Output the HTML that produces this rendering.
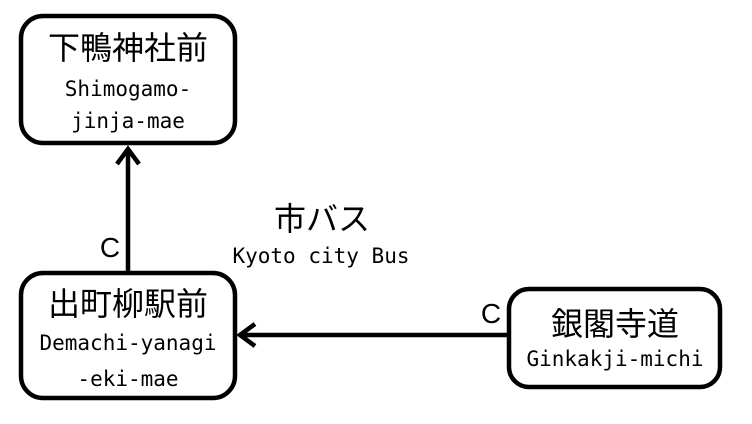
<!DOCTYPE html>
<html><head><meta charset="utf-8"><style>
body{margin:0;background:#fff;width:752px;height:419px;overflow:hidden}
svg text{font-family:"DejaVu Sans Mono","Noto Sans CJK JP",monospace;fill:#000}
.j{font-family:"Liberation Sans","Noto Sans CJK JP",sans-serif !important;font-size:32px}
.m{font-size:21px}
</style></head><body>
<svg width="752" height="419" viewBox="0 0 752 419" xmlns="http://www.w3.org/2000/svg">
<g fill="none" stroke="#000" stroke-width="4.5">
<rect x="21" y="16" width="214" height="127" rx="22"/>
<rect x="21" y="273" width="214" height="125" rx="22"/>
<rect x="509" y="289" width="211" height="98" rx="20"/>
<line x1="128" y1="271" x2="128" y2="148"/>
<polyline points="117,164 128,149 139,164"/>
<line x1="507" y1="335" x2="239" y2="335"/>
<polyline points="255,324 240,335 255,346"/>
</g>
<g text-anchor="middle">
<text class="j" x="128" y="59">下鴨神社前</text>
<text class="m" x="128" y="96">Shimogamo-</text>
<text class="m" x="128" y="128">jinja-mae</text>
<text class="j" x="128" y="315">出町柳駅前</text>
<text class="m" x="128" y="350">Demachi-yanagi</text>
<text class="m" x="128" y="386">-eki-mae</text>
<text class="j" x="615" y="335">銀閣寺道</text>
<text class="m" x="615" y="366">Ginkakji-michi</text>
<text class="j" x="322" y="230">市バス</text>
<text class="m" x="321" y="263">Kyoto city Bus</text>
<text class="j" x="110" y="257" style="font-size:28px">C</text>
<text class="j" x="491" y="323" style="font-size:28px">C</text>
</g>
</svg>
</body></html>
